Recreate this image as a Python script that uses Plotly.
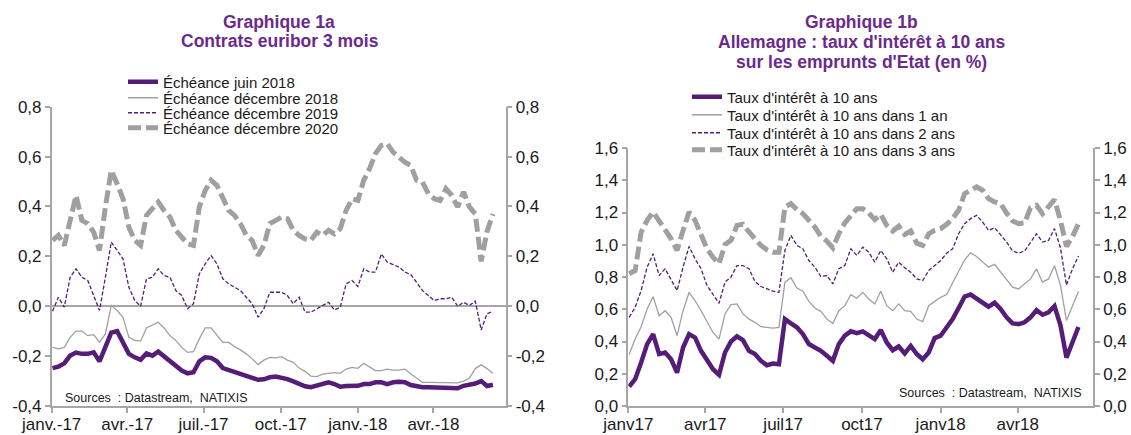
import pandas as pd
import plotly.graph_objects as go

# ---------------- data (weekly readings, Jan 2017 - Jun 2018) ----------------
dates = pd.date_range("2017-01-02", periods=76, freq="7D")

# Graphique 1a : contrats euribor 3 mois
ech_juin_2018 = [
    -0.248, -0.242, -0.229, -0.198, -0.186, -0.191, -0.191, -0.185, -0.221, -0.165,
    -0.106, -0.100, -0.145, -0.191, -0.205, -0.215, -0.189, -0.198, -0.182, -0.202,
    -0.221, -0.238, -0.258, -0.269, -0.265, -0.221, -0.205, -0.207, -0.221, -0.248,
    -0.256, -0.261, -0.272, -0.278, -0.285, -0.295, -0.293, -0.285, -0.282, -0.285,
    -0.292, -0.301, -0.312, -0.321, -0.325, -0.319, -0.312, -0.305, -0.312, -0.323,
    -0.320, -0.319, -0.319, -0.312, -0.312, -0.305, -0.305, -0.312, -0.305, -0.303,
    -0.305, -0.316, -0.321, -0.325, -0.325, -0.325, -0.325, -0.325, -0.325, -0.329,
    -0.319, -0.316, -0.310, -0.300, -0.320, -0.315]
ech_dec_2018 = [
    -0.165, -0.171, -0.165, -0.125, -0.100, -0.100, -0.118, -0.114, -0.145, -0.111,
    0.003, -0.017, -0.044, -0.125, -0.137, -0.140, -0.087, -0.074, -0.064, -0.087,
    -0.118, -0.137, -0.165, -0.185, -0.182, -0.131, -0.087, -0.087, -0.118, -0.145,
    -0.145, -0.162, -0.175, -0.191, -0.211, -0.234, -0.216, -0.205, -0.207, -0.202,
    -0.216, -0.225, -0.248, -0.261, -0.280, -0.282, -0.272, -0.268, -0.266, -0.269,
    -0.252, -0.245, -0.249, -0.229, -0.245, -0.258, -0.258, -0.252, -0.256, -0.256,
    -0.252, -0.272, -0.288, -0.305, -0.305, -0.305, -0.305, -0.307, -0.307, -0.307,
    -0.300, -0.288, -0.250, -0.235, -0.250, -0.270]
ech_dec_2019 = [
    -0.020, 0.036, -0.004, 0.116, 0.150, 0.116, 0.103, 0.043, -0.017, 0.116,
    0.257, 0.224, 0.190, 0.076, 0.023, 0.000, 0.110, 0.116, 0.150, 0.123,
    0.116, 0.063, 0.043, -0.010, 0.010, 0.130, 0.170, 0.203, 0.170, 0.110,
    0.090, 0.076, 0.063, 0.036, 0.010, -0.044, -0.010, 0.056, 0.056, 0.056,
    0.043, 0.010, 0.036, -0.024, -0.024, -0.010, 0.003, 0.016, -0.015, -0.004,
    0.090, 0.103, 0.079, 0.150, 0.137, 0.137, 0.210, 0.177, 0.167, 0.157,
    0.137, 0.127, 0.096, 0.063, 0.043, 0.023, 0.030, 0.030, 0.036, 0.000,
    0.016, 0.003, 0.020, -0.095, -0.030, -0.020]
ech_dec_2020 = [
    0.264, 0.284, 0.244, 0.344, 0.444, 0.344, 0.331, 0.297, 0.224, 0.398,
    0.545, 0.491, 0.431, 0.317, 0.264, 0.244, 0.364, 0.391, 0.418, 0.384,
    0.357, 0.304, 0.277, 0.250, 0.244, 0.398, 0.464, 0.505, 0.485, 0.431,
    0.384, 0.364, 0.331, 0.284, 0.264, 0.203, 0.244, 0.331, 0.344, 0.357,
    0.351, 0.304, 0.284, 0.270, 0.264, 0.297, 0.284, 0.304, 0.290, 0.311,
    0.384, 0.431, 0.424, 0.505, 0.552, 0.612, 0.645, 0.652, 0.618, 0.598,
    0.578, 0.565, 0.505, 0.498, 0.451, 0.431, 0.424, 0.471, 0.444, 0.398,
    0.458, 0.398, 0.370, 0.180, 0.300, 0.370]

# Graphique 1b : Allemagne, taux d'intérêt à 10 ans
taux_10 = [
    0.120, 0.166, 0.270, 0.384, 0.446, 0.322, 0.332, 0.290, 0.207, 0.363,
    0.446, 0.425, 0.342, 0.280, 0.228, 0.193, 0.332, 0.400, 0.432, 0.409,
    0.342, 0.322, 0.280, 0.253, 0.263, 0.259, 0.539, 0.512, 0.488, 0.446,
    0.384, 0.363, 0.342, 0.311, 0.280, 0.384, 0.436, 0.463, 0.452, 0.463,
    0.436, 0.415, 0.471, 0.394, 0.346, 0.369, 0.326, 0.373, 0.322, 0.290,
    0.332, 0.421, 0.436, 0.492, 0.539, 0.608, 0.678, 0.691, 0.664, 0.637,
    0.616, 0.641, 0.602, 0.550, 0.512, 0.508, 0.519, 0.550, 0.595, 0.566,
    0.581, 0.620, 0.500, 0.300, 0.400, 0.490]
taux_10_1an = [
    0.320, 0.415, 0.492, 0.602, 0.678, 0.560, 0.591, 0.550, 0.436, 0.591,
    0.705, 0.654, 0.591, 0.519, 0.456, 0.415, 0.571, 0.629, 0.633, 0.571,
    0.539, 0.519, 0.492, 0.488, 0.483, 0.488, 0.768, 0.795, 0.732, 0.712,
    0.649, 0.608, 0.587, 0.539, 0.512, 0.591, 0.622, 0.691, 0.668, 0.705,
    0.664, 0.633, 0.712, 0.622, 0.591, 0.633, 0.591, 0.587, 0.539, 0.523,
    0.622, 0.649, 0.674, 0.691, 0.768, 0.836, 0.907, 0.950, 0.927, 0.892,
    0.861, 0.878, 0.830, 0.778, 0.737, 0.726, 0.757, 0.788, 0.850, 0.768,
    0.788, 0.870, 0.750, 0.530, 0.620, 0.710]
taux_10_2ans = [
    0.550, 0.612, 0.716, 0.861, 0.944, 0.809, 0.851, 0.788, 0.716, 0.861,
    0.990, 0.913, 0.851, 0.747, 0.695, 0.637, 0.768, 0.800, 0.871, 0.871,
    0.851, 0.772, 0.741, 0.726, 0.712, 0.705, 0.965, 1.058, 0.996, 0.975,
    0.902, 0.861, 0.803, 0.809, 0.757, 0.851, 0.871, 0.975, 0.934, 0.985,
    0.954, 0.892, 0.965, 0.913, 0.830, 0.892, 0.857, 0.830, 0.788, 0.778,
    0.840, 0.871, 0.902, 0.948, 0.975, 1.068, 1.131, 1.162, 1.183, 1.141,
    1.089, 1.106, 1.064, 1.017, 0.961, 0.948, 0.961, 1.017, 1.068, 1.017,
    1.027, 1.100, 0.980, 0.750, 0.850, 0.930]
taux_10_3ans = [
    0.820, 0.840, 1.079, 1.151, 1.203, 1.141, 1.093, 1.037, 0.965, 1.089,
    1.203, 1.151, 1.068, 0.975, 0.923, 0.882, 1.002, 1.027, 1.120, 1.127,
    1.079, 1.037, 0.996, 0.969, 0.954, 0.954, 1.234, 1.255, 1.218, 1.193,
    1.156, 1.110, 1.052, 1.023, 0.981, 1.068, 1.135, 1.178, 1.224, 1.224,
    1.197, 1.156, 1.189, 1.120, 1.085, 1.116, 1.064, 1.085, 1.010, 0.996,
    1.068, 1.089, 1.100, 1.127, 1.162, 1.214, 1.317, 1.338, 1.359, 1.338,
    1.286, 1.266, 1.255, 1.197, 1.147, 1.131, 1.135, 1.230, 1.245, 1.193,
    1.234, 1.280, 1.150, 0.990, 1.050, 1.130]

# tick labels
x_tickvals = ["2017-01-01", "2017-04-01", "2017-07-01", "2017-10-01", "2018-01-01", "2018-04-01"]
x_ticktext_a = ["janv.-17", "avr.-17", "juil.-17", "oct.-17", "janv.-18", "avr.-18"]
x_ticktext_b = ["janv17", "avr17", "juil17", "oct17", "janv18", "avr18"]
y_tickvals_a = [-0.4, -0.2, 0.0, 0.2, 0.4, 0.6, 0.8]
y_ticktext_a = ["-0,4", "-0,2", "0,0", "0,2", "0,4", "0,6", "0,8"]
y_tickvals_b = [0.0, 0.2, 0.4, 0.6, 0.8, 1.0, 1.2, 1.4, 1.6]
y_ticktext_b = ["0,0", "0,2", "0,4", "0,6", "0,8", "1,0", "1,2", "1,4", "1,6"]

names_a = ["Échéance juin 2018", "Échéance décembre 2018",
           "Échéance décembre 2019", "Échéance décembre 2020"]
names_b = ["Taux d'intérêt à 10 ans", "Taux d'intérêt à 10 ans dans 1 an",
           "Taux d'intérêt à 10 ans dans 2 ans", "Taux d'intérêt à 10 ans dans 3 ans"]
series_a = [ech_juin_2018, ech_dec_2018, ech_dec_2019, ech_dec_2020]
series_b = [taux_10, taux_10_1an, taux_10_2ans, taux_10_3ans]

# ---------------- styling ----------------
W, H = 1131, 435
PURPLE = "#561D78"
TITLE_PURPLE = "#6A2A8E"
GRAY = "#A0A0A0"
AXIS_GRAY = "#A6A6A6"
FONT = "Liberation Sans, Arial, sans-serif"
TXT = "#1A1A1A"


def px_x(p):
    return p / W


def px_y(p):
    return 1 - p / H


styles = [
    dict(color=PURPLE, width=4.5, dash="solid"),
    dict(color=GRAY, width=1.3, dash="solid"),
    dict(color=PURPLE, width=1.3, dash="4px,2px"),
    dict(color=GRAY, width=5, dash="13px,5px"),
]

# legend rows (pixel centre of each entry) and left edges
rows_a = [82, 98, 113, 128]
rows_b = [97, 115, 133, 150]
leg_left_a = 123
leg_left_b = 687

fig = go.Figure()

draw_order = [1, 2, 0, 3]
for k in draw_order:
    fig.add_trace(go.Scatter(
        x=dates, y=series_a[k], name=names_a[k], mode="lines", line=styles[k],
        xaxis="x", yaxis="y2" if k == 3 else "y",
        legend="legend" if k == 0 else "legend%d" % (k + 1), hoverinfo="skip"))
for k in draw_order:
    fig.add_trace(go.Scatter(
        x=dates, y=series_b[k], name=names_b[k], mode="lines", line=styles[k],
        xaxis="x2", yaxis="y4" if k == 3 else "y3",
        legend="legend%d" % (k + 5), hoverinfo="skip"))

axis_common = dict(showline=True, linecolor=AXIS_GRAY, linewidth=1.5, ticks="outside",
                   ticklen=5, tickcolor=AXIS_GRAY, tickwidth=1.5, showgrid=False,
                   zeroline=False, automargin=False,
                   tickfont=dict(family=FONT, size=17, color=TXT))

dom_a = [px_x(51.7), px_x(505.5)]
dom_b = [px_x(628.3), px_x(1093)]
ydom_a = [px_y(406), px_y(106.7)]
ydom_b = [px_y(406), px_y(148)]

legends = {}
for k in range(4):
    key = "legend" if k == 0 else "legend%d" % (k + 1)
    legends[key] = dict(x=px_x(leg_left_a), y=px_y(rows_a[k]), xanchor="left",
                        yanchor="middle", bgcolor="rgba(0,0,0,0)", borderwidth=0,
                        font=dict(family=FONT, size=15, color=TXT))
    legends["legend%d" % (k + 5)] = dict(x=px_x(leg_left_b), y=px_y(rows_b[k]),
                                         xanchor="left", yanchor="middle",
                                         bgcolor="rgba(0,0,0,0)", borderwidth=0,
                                         font=dict(family=FONT, size=15, color=TXT))

fig.update_layout(
    width=W, height=H,
    margin=dict(l=0, r=0, t=0, b=0),
    paper_bgcolor="white", plot_bgcolor="white",
    font=dict(family=FONT, color=TXT),
    xaxis=dict(axis_common, domain=dom_a, type="date",
               range=["2017-01-01", "2018-06-26"], anchor="y",
               tickvals=x_tickvals, ticktext=x_ticktext_a, ticklabelstandoff=-3),
    yaxis=dict(axis_common, domain=ydom_a, range=[-0.4, 0.8], anchor="x",
               tickvals=y_tickvals_a, ticktext=y_ticktext_a,
               zeroline=True, zerolinecolor=AXIS_GRAY, zerolinewidth=1.5),
    yaxis2=dict(axis_common, range=[-0.4, 0.8], anchor="x", overlaying="y",
                side="right", tickvals=y_tickvals_a, ticktext=y_ticktext_a),
    xaxis2=dict(axis_common, domain=dom_b, type="date",
                range=["2017-01-01", "2018-06-28"], anchor="y3",
                tickvals=x_tickvals, ticktext=x_ticktext_b, ticklabelstandoff=-3),
    yaxis3=dict(axis_common, domain=ydom_b, range=[0, 1.6], anchor="x2",
                tickvals=y_tickvals_b, ticktext=y_ticktext_b),
    yaxis4=dict(axis_common, range=[0, 1.6], anchor="x2", overlaying="y3",
                side="right", tickvals=y_tickvals_b, ticktext=y_ticktext_b),
    showlegend=True,
    **legends,
)

title_font = dict(family=FONT, size=17.5, color=TITLE_PURPLE)
titles = [
    ("Graphique 1a", 279, 22),
    ("Contrats euribor 3 mois", 280, 41),
    ("Graphique 1b", 861, 22),
    ("Allemagne : taux d'intérêt à 10 ans", 861, 42),
    ("sur les emprunts d'Etat (en %)", 861, 62),
]
for txt, cx, cy in titles:
    fig.add_annotation(text="<b>%s</b>" % txt, xref="paper", yref="paper",
                       x=px_x(cx), y=px_y(cy), xanchor="center", yanchor="middle",
                       showarrow=False, font=title_font)

src_font = dict(family=FONT, size=12.5, color=TXT)
fig.add_annotation(text="Sources  : Datastream,  NATIXIS", xref="paper", yref="paper",
                   x=px_x(63), y=px_y(398), xanchor="left", yanchor="middle",
                   showarrow=False, font=src_font)
fig.add_annotation(text="Sources  : Datastream,  NATIXIS", xref="paper", yref="paper",
                   x=px_x(897), y=px_y(393), xanchor="left", yanchor="middle",
                   showarrow=False, font=src_font)

fig.write_html("out.html", config={"displayModeBar": False},
               post_script="document.body.style.margin='0';document.body.style.padding='0';")
